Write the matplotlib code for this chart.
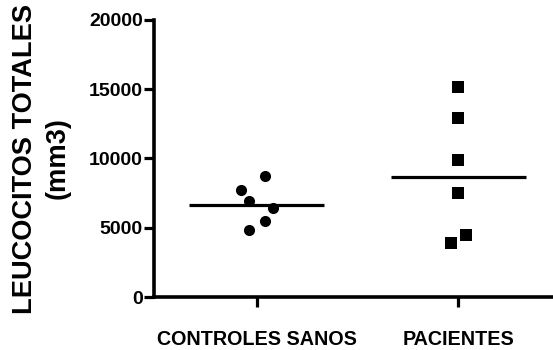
import numpy as np
import matplotlib
matplotlib.use('Agg')
import matplotlib.pyplot as plt

plt.rcParams['font.family'] = ['Liberation Sans', 'DejaVu Sans']
plt.rcParams['font.weight'] = 'bold'

grupos = ['CONTROLES SANOS', 'PACIENTES']
controles = [8736, 7726, 6910, 6426, 5466, 4838]
controles_dx = [0.04, -0.08, -0.04, 0.08, 0.04, -0.04]
pacientes = [15184, 12900, 9892, 7487, 4477, 3877]
pacientes_dx = [0, 0, 0, 0, 0.04, -0.037]
yticks = [0, 5000, 10000, 15000, 20000]

fig = plt.figure(figsize=(5.53, 3.5), dpi=100)
ax = fig.add_axes([154 / 553, 53 / 350, 1 - 154 / 553, 277 / 350])

ax.scatter(1 + np.array(controles_dx), controles, s=64, marker='o',
           color='black', zorder=3, linewidths=0)
ax.scatter(2 + np.array(pacientes_dx), pacientes, s=74, marker='s',
           color='black', zorder=3, linewidths=0)

# linea de la mediana
for x, vals in [(1, controles), (2, pacientes)]:
    m = np.median(vals)
    ax.plot([x - 0.335, x + 0.335], [m, m], color='black', lw=2.3,
            solid_capstyle='butt', zorder=2)

ax.set_xlim(0.49, 2.47)
ax.set_ylim(0, 20000)
ax.set_xticks([1, 2])
ax.set_xticklabels(grupos, fontsize=14.2, fontweight='bold')
ax.set_yticks(yticks)
ax.set_yticklabels([str(v) for v in yticks], fontsize=14, fontweight='bold')

for s in ['top', 'right']:
    ax.spines[s].set_visible(False)
for s in ['left', 'bottom']:
    ax.spines[s].set_linewidth(2.6)
ax.tick_params(axis='both', direction='out', length=7, width=2.3)
ax.tick_params(axis='y', pad=1)
ax.tick_params(axis='x', pad=17)

ax.set_ylabel('LEUCOCITOS TOTALES\n(mm3)', fontsize=19.6, fontweight='bold',
              linespacing=1.35, labelpad=13)

fig.savefig('out.png', dpi=100)
